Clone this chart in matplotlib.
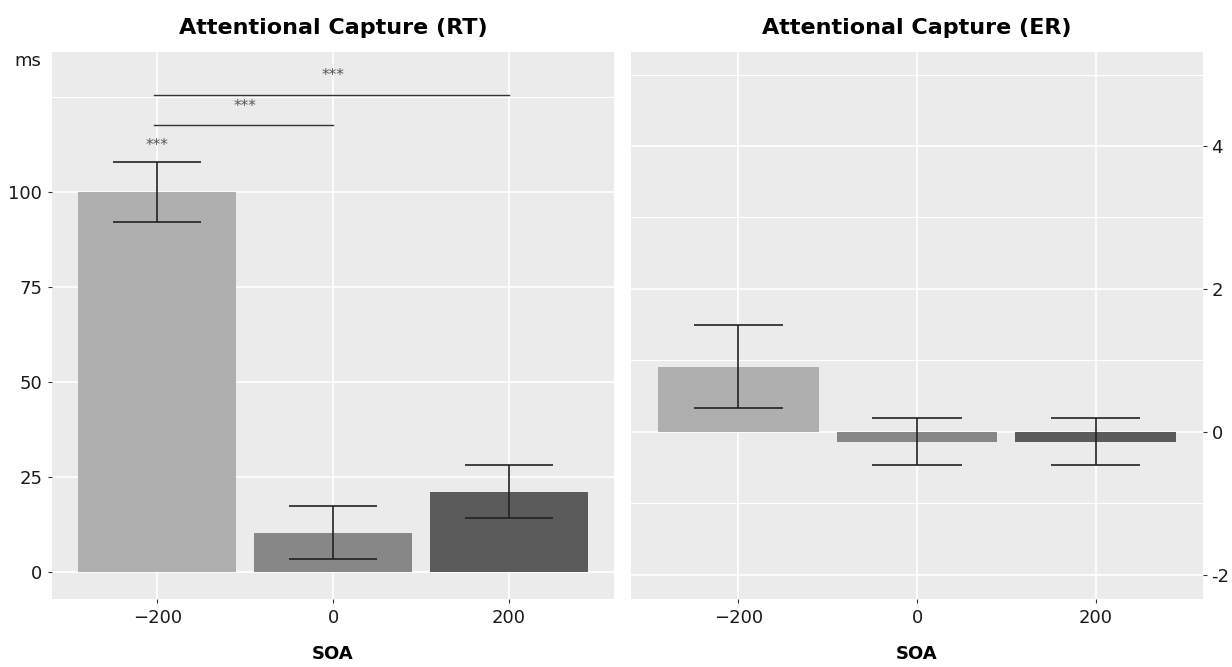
import numpy as np
import matplotlib
matplotlib.use("Agg")
import matplotlib.pyplot as plt

# data
soa_labels = ["\u2212200", "0", "200"]
rt_mean = [99.9, 10.3, 21.0]
rt_se = [7.8, 7.0, 7.0]
er_mean = [0.91, -0.14, -0.14]
er_se = [0.58, 0.33, 0.33]
er_ticks = [-2, 0, 2, 4]
er_tick_labels = ["-2", "0", "2", "4"]
bar_colors = ["#afafaf", "#878787", "#5b5b5b"]

# significance brackets: (from, to, line height, star height)
sig_pairs = [(0, 1, 117.5, 122.5), (0, 2, 125.5, 130.5)]
bar_star = (0, 112.0)

plt.rcParams["font.family"] = ["DejaVu Sans"]

fig = plt.figure(figsize=(12.32, 6.67), dpi=100)
ax1 = fig.add_axes([0.0422, 0.1019, 0.4562, 0.8206])
ax2 = fig.add_axes([0.5122, 0.1019, 0.4643, 0.8206])

x = np.arange(len(soa_labels))


def style(ax):
    ax.set_facecolor("#ebebeb")
    for s in ax.spines.values():
        s.set_visible(False)
    ax.grid(True, which="major", color="white", linewidth=1.2)
    ax.grid(True, which="minor", axis="y", color="white", linewidth=0.8)
    ax.set_axisbelow(True)
    ax.tick_params(which="major", length=3, width=0.8, color="#333333",
                   labelsize=13, labelcolor="#1a1a1a", pad=4)
    ax.tick_params(which="minor", length=0)
    ax.set_xticks(x)
    ax.set_xticklabels(soa_labels)
    ax.set_xlim(-0.6, 2.6)
    ax.set_xlabel("SOA", fontsize=13, fontweight="bold", va="center")
    ax.xaxis.set_label_coords(0.5, -0.1005)


def draw_bars(ax, mean, se):
    ax.bar(x, mean, width=0.9, color=bar_colors, zorder=2)
    lo = np.array(mean) - np.array(se)
    hi = np.array(mean) + np.array(se)
    ax.vlines(x, lo, hi, color="#222222", linewidth=1.2, zorder=3)
    ax.hlines(lo, x - 0.25, x + 0.25, color="#222222", linewidth=1.2, zorder=3)
    ax.hlines(hi, x - 0.25, x + 0.25, color="#222222", linewidth=1.2, zorder=3)


# RT panel
style(ax1)
draw_bars(ax1, rt_mean, rt_se)
ax1.set_ylim(-7.2, 136.8)
ax1.set_yticks([0, 25, 50, 75, 100])
ax1.set_yticks([125], minor=True)
ax1.set_title("Attentional Capture (RT)", fontsize=16, fontweight="bold", pad=13)
for a, b, h, sh in sig_pairs:
    ax1.plot([a - 0.02, b], [h, h], color="#333333", linewidth=1.0, zorder=3)
    ax1.text((a + b) / 2, sh, "***", ha="center", va="center", fontsize=11, color="#555555")
ax1.text(bar_star[0], bar_star[1], "***", ha="center", va="center", fontsize=11, color="#555555")
fig.text(0.012, 1 - 61 / 667, "ms", fontsize=13, color="#1a1a1a", va="center", ha="left")

# ER panel
style(ax2)
draw_bars(ax2, er_mean, er_se)
ax2.set_ylim(-2.34, 5.32)
ax2.set_yticks(er_ticks)
ax2.set_yticklabels(er_tick_labels)
ax2.set_yticks([-1, 1, 3, 5], minor=True)
ax2.yaxis.tick_right()
ax2.tick_params(axis="y", pad=3)
ax2.set_title("Attentional Capture (ER)", fontsize=16, fontweight="bold", pad=13)

fig.savefig("out.png", dpi=100)
